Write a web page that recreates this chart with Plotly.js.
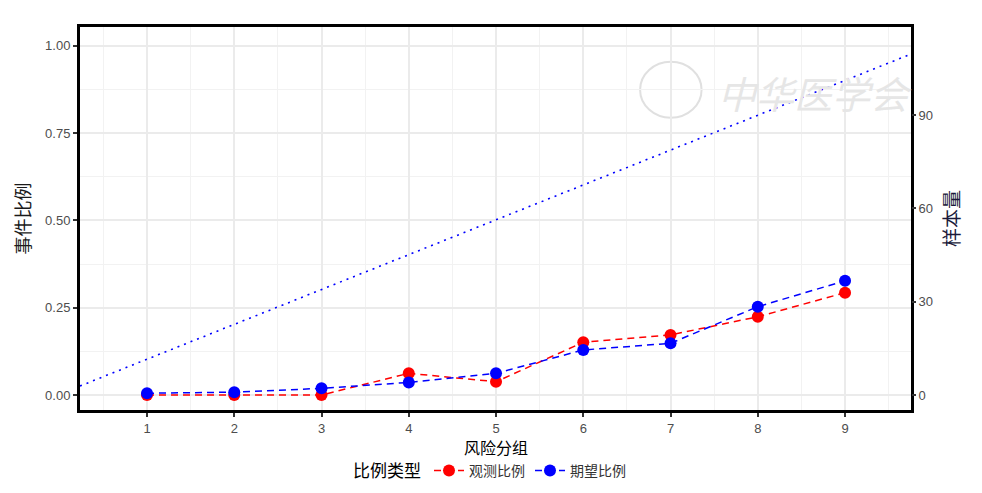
<!DOCTYPE html>
<html>
<head>
<meta charset="utf-8">
<script src="https://cdn.plot.ly/plotly-3.0.1.min.js"></script>
<style>
  html, body { margin: 0; padding: 0; background: #fff; }
  #chart_area { width: 982px; height: 493px; }
</style>
</head>
<body>
<div id="chart_area"></div>
<script>
// risk groups
var groups = [1, 2, 3, 4, 5, 6, 7, 8, 9];
// observed event proportion per group
var observed = [0.000, 0.000, 0.000, 0.062, 0.038, 0.151, 0.172, 0.224, 0.293];
// expected event proportion per group
var expected = [0.005, 0.008, 0.019, 0.036, 0.062, 0.129, 0.148, 0.253, 0.327];
// sample size line (right axis), read at the plot edges
var sampleX = [0.232, 9.756];
var sampleN = [2.9, 109.6];

var seriesNames = ['观测比例', '期望比例'];
var xTitle = '风险分组';
var leftTicks = [0, 0.25, 0.5, 0.75, 1];
var leftTickText = ['0.00', '0.25', '0.50', '0.75', '1.00'];
var rightTicks = [0, 30, 60, 90];

var numFont = 'Liberation Sans, Arial, sans-serif';
var cjkFont = 'Noto Sans CJK SC, Liberation Sans, sans-serif';

function draw_chart() {
  var trace0 = {
    type: 'scatter',
    mode: 'lines+markers',
    name: seriesNames[0],
    x: groups,
    y: observed,
    line: { color: '#ff0000', width: 1.5, dash: '7px,5px' },
    marker: { color: '#ff0000', size: 12 }
  };
  var trace1 = {
    type: 'scatter',
    mode: 'lines+markers',
    name: seriesNames[1],
    x: groups,
    y: expected,
    line: { color: '#0000ff', width: 1.5, dash: '7px,5px' },
    marker: { color: '#0000ff', size: 12 }
  };
  var trace2 = {
    type: 'scatter',
    mode: 'lines',
    x: sampleX,
    y: sampleN,
    yaxis: 'y2',
    showlegend: false,
    line: { color: '#0000ff', width: 1.6, dash: '2px,5px' }
  };

  var data = [ trace2, trace0, trace1 ];

  var layout = {
    width: 982,
    height: 493,
    margin: { l: 80, r: 71, t: 27, b: 83 },
    paper_bgcolor: '#ffffff',
    plot_bgcolor: '#ffffff',
    font: { family: numFont, color: '#4d4d4d', size: 13 },
    showlegend: true,
    legend: {
      orientation: 'h',
      x: 0.5, xanchor: 'center', xref: 'container',
      y: 0.044, yanchor: 'middle', yref: 'container',
      font: { family: cjkFont, size: 14, color: '#333333' },
      title: { text: '比例类型', side: 'left', font: { family: cjkFont, size: 17, color: '#000000' } },
      itemwidth: 30,
      tracegroupgap: 0
    },
    xaxis: {
      range: [0.232, 9.756],
      tickmode: 'array',
      tickvals: groups,
      ticks: 'outside', ticklen: 4, tickwidth: 1.5, tickcolor: '#333333',
      showgrid: true, gridcolor: '#ebebeb', gridwidth: 1.5,
      minor: { dtick: 0.5, tick0: 0.5, showgrid: true, gridcolor: '#f2f2f2', gridwidth: 1, ticks: '' },
      zeroline: false,
      showline: true, linecolor: '#000000', linewidth: 3, mirror: true,
      tickfont: { family: numFont, size: 13, color: '#4d4d4d' }
    },
    yaxis: {
      range: [-0.043, 1.054],
      tickmode: 'array',
      tickvals: leftTicks,
      ticktext: leftTickText,
      ticks: 'outside', ticklen: 4, tickwidth: 1.5, tickcolor: '#333333',
      showgrid: true, gridcolor: '#ebebeb', gridwidth: 1.5,
      minor: { dtick: 0.125, tick0: 0.125, showgrid: true, gridcolor: '#f2f2f2', gridwidth: 1, ticks: '' },
      zeroline: false,
      showline: true, linecolor: '#000000', linewidth: 3, mirror: true,
      tickfont: { family: numFont, size: 13, color: '#4d4d4d' },
      title: { text: '事件比例', standoff: 10, font: { family: cjkFont, size: 18, color: '#1a1a1a' } }
    },
    yaxis2: {
      overlaying: 'y',
      side: 'right',
      range: [-4.82, 118.3],
      tickmode: 'array',
      tickvals: rightTicks,
      ticks: 'outside', ticklen: 4, tickwidth: 1.5, tickcolor: '#333333',
      showgrid: false, zeroline: false, showline: false,
      tickfont: { family: numFont, size: 13, color: '#4d4d4d' },
      title: { text: '样本量', standoff: 13, font: { family: cjkFont, size: 19, color: '#1a1a3a' } }
    },
    shapes: [
      { type: 'circle', xref: 'paper', yref: 'paper',
        x0: 0.674, x1: 0.748, y0: 0.763, y1: 0.909,
        line: { color: '#e0e0e0', width: 2 }, layer: 'below' }
    ],
    annotations: [
      // x axis title, placed by hand below the tick labels
      { xref: 'paper', yref: 'paper', x: 0.5, y: -0.097, xanchor: 'center', yanchor: 'middle',
        text: xTitle, showarrow: false,
        font: { family: cjkFont, size: 16, color: '#000000' } },
      { xref: 'paper', yref: 'paper', x: 0.885, y: 0.83, xanchor: 'center', yanchor: 'middle',
        text: '<i>中华医学会</i>', showarrow: false,
        font: { family: cjkFont, size: 38, color: '#e6e6e6' } }
    ]
  };

  var config = { responsive: false, displayModeBar: false };

  Plotly.newPlot('chart_area', data, layout, config);
}

draw_chart();
</script>
</body>
</html>
